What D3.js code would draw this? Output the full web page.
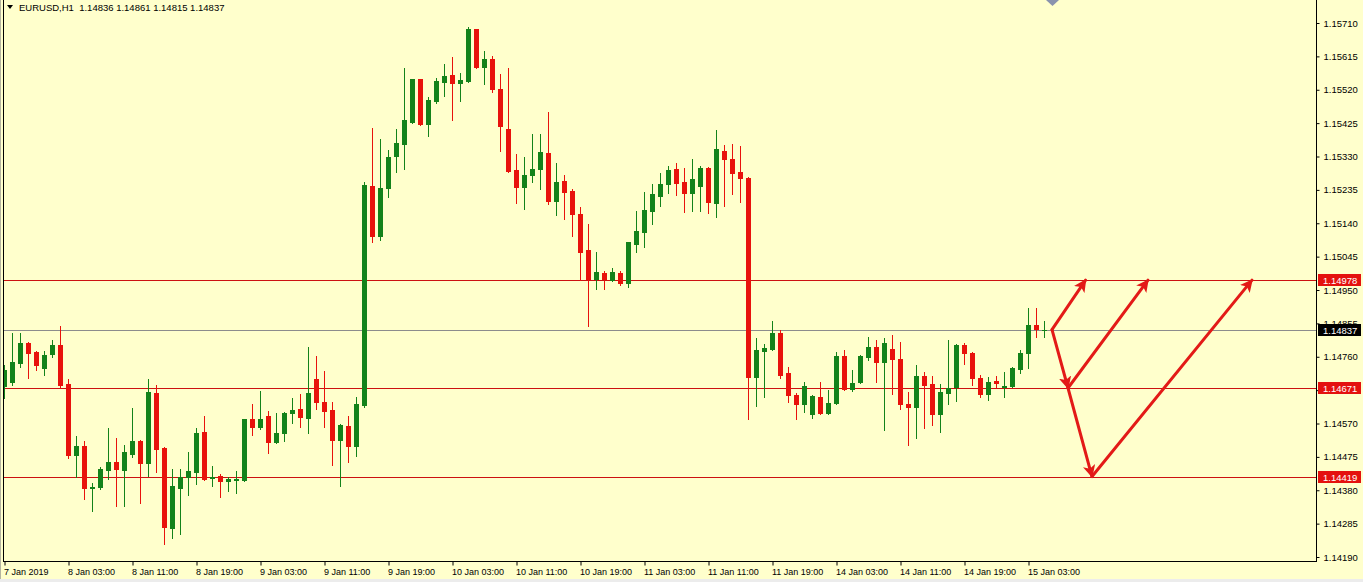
<!DOCTYPE html>
<html><head><meta charset="utf-8">
<script src="https://cdn.jsdelivr.net/npm/d3@7"></script>
<style>
html,body{margin:0;padding:0;background:#FFFFCC;overflow:hidden}
svg{display:block}
text{font-family:"Liberation Sans",Arial,sans-serif}
</style>
</head><body>
<svg id="chart" width="1363" height="582"></svg>
<script>
// ---- data (EURUSD H1, bar index 0 = 7 Jan 19:00, last = 15 Jan 05:00) ----
const openP = [1.14676,1.14688,1.14742,1.14799,1.14773,1.14728,1.14767,1.14793,1.14682,1.14480,
1.14506,1.14386,1.14389,1.14437,1.14460,1.14437,1.14483,1.14520,1.14457,1.14656,
1.14500,1.14272,1.14386,1.14417,1.14432,1.14545,1.14415,1.14420,1.14406,1.14410,
1.14409,1.14582,1.14560,1.14591,1.14517,1.14543,1.14600,1.14611,1.14585,1.14696,
1.14631,1.14608,1.14523,1.14563,1.14506,1.14622,1.15246,1.15103,1.15240,1.15331,
1.15365,1.15428,1.15550,1.15422,1.15488,1.15542,1.15562,1.15539,1.15545,1.15692,
1.15584,1.15607,1.15522,1.15408,1.15291,1.15243,1.15277,1.15294,1.15340,1.15203,
1.15260,1.15231,1.15166,1.15064,1.14981,1.14998,1.14978,1.14998,1.14970,1.15081,
1.15115,1.15175,1.15217,1.15251,1.15294,1.15257,1.15226,1.15246,1.15297,1.15197,
1.15345,1.15323,1.15285,1.15268,1.14702,1.14776,1.14782,1.14827,1.14713,1.14651,
1.14625,1.14597,1.14645,1.14600,1.14628,1.14762,1.14668,1.14688,1.14759,1.14787,
1.14745,1.14782,1.14753,1.14625,1.14617,1.14705,1.14682,1.14597,1.14656,1.14674,
1.14793,1.14770,1.14699,1.14654,1.14691,1.14674,1.14676,1.14725,1.14770,1.14850,
1.14836];
const highP = [1.14736,1.14827,1.14827,1.14802,1.14776,1.14776,1.14807,1.14847,1.14696,1.14534,
1.14520,1.14400,1.14446,1.14557,1.14528,1.14508,1.14614,1.14523,1.14696,1.14679,
1.14503,1.14440,1.14440,1.14489,1.14557,1.14591,1.14449,1.14426,1.14417,1.14434,
1.14584,1.14625,1.14662,1.14605,1.14600,1.14602,1.14642,1.14654,1.14787,1.14762,
1.14719,1.14631,1.14568,1.14591,1.14645,1.15257,1.15411,1.15379,1.15348,1.15408,
1.15581,1.15552,1.15552,1.15499,1.15553,1.15593,1.15613,1.15567,1.15698,1.15694,
1.15630,1.15616,1.15564,1.15581,1.15337,1.15328,1.15394,1.15394,1.15456,1.15311,
1.15277,1.15237,1.15186,1.15138,1.15058,1.15004,1.15012,1.15004,1.15088,1.15175,
1.15229,1.15251,1.15283,1.15303,1.15311,1.15297,1.15323,1.15303,1.15300,1.15405,
1.15362,1.15365,1.15359,1.15271,1.14813,1.14796,1.14861,1.14836,1.14730,1.14656,
1.14688,1.14651,1.14688,1.14665,1.14773,1.14779,1.14722,1.14764,1.14816,1.14807,
1.14813,1.14822,1.14802,1.14659,1.14736,1.14716,1.14705,1.14682,1.14807,1.14796,
1.14799,1.14773,1.14708,1.14702,1.14705,1.14716,1.14730,1.14779,1.14898,1.14898,
1.14861];
const lowP = [1.14642,1.14679,1.14730,1.14699,1.14722,1.14708,1.14759,1.14671,1.14471,1.14417,
1.14355,1.14321,1.14383,1.14412,1.14335,1.14335,1.14474,1.14343,1.14420,1.14432,
1.14227,1.14244,1.14255,1.14366,1.14397,1.14409,1.14392,1.14360,1.14378,1.14372,
1.14406,1.14537,1.14554,1.14486,1.14515,1.14520,1.14571,1.14560,1.14543,1.14611,
1.14560,1.14452,1.14392,1.14460,1.14477,1.14617,1.15086,1.15092,1.15214,1.15285,
1.15294,1.15425,1.15419,1.15388,1.15482,1.15502,1.15433,1.15488,1.15543,1.15581,
1.15536,1.15513,1.15345,1.15285,1.15197,1.15180,1.15257,1.15237,1.15194,1.15163,
1.15152,1.15103,1.14978,1.14847,1.14953,1.14953,1.14976,1.14964,1.14958,1.15058,
1.15072,1.15138,1.15189,1.15226,1.15220,1.15172,1.15175,1.15175,1.15169,1.15157,
1.15189,1.15223,1.15200,1.14582,1.14619,1.14645,1.14779,1.14699,1.14631,1.14582,
1.14602,1.14585,1.14597,1.14597,1.14625,1.14665,1.14662,1.14686,1.14750,1.14688,
1.14551,1.14654,1.14611,1.14508,1.14528,1.14557,1.14566,1.14545,1.14625,1.14634,
1.14739,1.14679,1.14645,1.14637,1.14674,1.14645,1.14674,1.14713,1.14728,1.14816,
1.14815];
const closeP = [1.14722,1.14745,1.14799,1.14770,1.14736,1.14765,1.14793,1.14679,1.14480,1.14506,
1.14386,1.14389,1.14440,1.14460,1.14440,1.14489,1.14520,1.14457,1.14659,1.14497,
1.14275,1.14392,1.14417,1.14434,1.14543,1.14412,1.14417,1.14406,1.14412,1.14412,
1.14582,1.14560,1.14582,1.14517,1.14543,1.14600,1.14608,1.14588,1.14656,1.14631,
1.14605,1.14523,1.14566,1.14506,1.14625,1.15248,1.15103,1.15240,1.15328,1.15368,
1.15433,1.15550,1.15422,1.15490,1.15545,1.15559,1.15539,1.15547,1.15692,1.15584,
1.15607,1.15522,1.15416,1.15288,1.15243,1.15277,1.15294,1.15342,1.15203,1.15257,
1.15229,1.15166,1.15058,1.14981,1.15001,1.14981,1.15001,1.14970,1.15086,1.15118,
1.15177,1.15223,1.15251,1.15291,1.15254,1.15226,1.15266,1.15297,1.15200,1.15351,
1.15323,1.15283,1.15268,1.14702,1.14779,1.14785,1.14827,1.14708,1.14651,1.14625,
1.14676,1.14648,1.14600,1.14628,1.14762,1.14668,1.14685,1.14762,1.14787,1.14745,
1.14799,1.14753,1.14625,1.14617,1.14705,1.14679,1.14597,1.14659,1.14671,1.14793,
1.14770,1.14699,1.14654,1.14688,1.14685,1.14676,1.14728,1.14770,1.14850,1.14838,
1.14837];

const timeTickBars = [0,8,16,24,32,40,48,56,64,72,80,88,96,104,112,120,128];
const timeTickLabels = ["7 Jan 2019","8 Jan 03:00","8 Jan 11:00","8 Jan 19:00","9 Jan 03:00","9 Jan 11:00",
  "9 Jan 19:00","10 Jan 03:00","10 Jan 11:00","10 Jan 19:00","11 Jan 03:00","11 Jan 11:00",
  "11 Jan 19:00","14 Jan 03:00","14 Jan 11:00","14 Jan 19:00","15 Jan 03:00"];
const priceTicks = [1.15710,1.15615,1.15520,1.15425,1.15330,1.15235,1.15140,1.15045,1.14950,
  1.14855,1.14760,1.14665,1.14570,1.14475,1.14380,1.14285,1.14190];
const levelPrices = [1.14978, 1.14671, 1.14419];
const bidPrice = 1.14837;
// trend arrows drawn on the chart (bar position, price)
const arrowBar1 = [131, 131, 133, 133, 136];
const arrowPrice1 = [1.14837, 1.14837, 1.14671, 1.14671, 1.14419];
const arrowBar2 = [135.2, 133, 143, 136, 156];
const arrowPrice2 = [1.14978, 1.14671, 1.14978, 1.14419, 1.14978];

// ---- layout ----
const W = 1363, H = 582;
const plotL = 3, plotR = 1316, plotB = 561;
const svg = d3.select("#chart");

const x = d3.scaleLinear().domain([0, 130]).range([4, 1044]);
const y = d3.scaleLinear().domain([1.14190, 1.15710]).range([557, 23]);

const bg = "#FFFFCC";
svg.append("rect").attr("width", W).attr("height", H).attr("fill", bg);
svg.append("rect").attr("x",0).attr("y",579).attr("width",W).attr("height",3).attr("fill","#ECECEC");
svg.append("line").attr("x1",0.5).attr("x2",0.5).attr("y1",0).attr("y2",579).attr("stroke","#B4B4A0");

svg.append("defs").append("clipPath").attr("id","plotclip")
  .append("rect").attr("x", plotL+1).attr("y", 0).attr("width", plotR-plotL-1).attr("height", plotB);

const plot = svg.append("g").attr("clip-path","url(#plotclip)");

// horizontal levels
const lineColor = "#CC1111";
levelPrices.forEach(p => {
  plot.append("line").attr("x1", plotL).attr("x2", plotR)
    .attr("y1", Math.round(y(p))+0.5).attr("y2", Math.round(y(p))+0.5)
    .attr("stroke", lineColor).attr("stroke-width", 1);
});
plot.append("line").attr("x1", plotL).attr("x2", plotR)
  .attr("y1", Math.round(y(bidPrice))+0.5).attr("y2", Math.round(y(bidPrice))+0.5)
  .attr("stroke", "#8C8C8C").attr("stroke-width", 1);

// candles
const bull = "#13821A", bear = "#E8120C";
const idx = d3.range(openP.length);
const cg = plot.append("g");
idx.forEach(i => {
  const cx = Math.round(x(i));
  const up = closeP[i] >= openP[i];
  const col = up ? bull : bear;
  cg.append("line").attr("x1", cx+0.5).attr("x2", cx+0.5)
    .attr("y1", Math.round(y(highP[i]))).attr("y2", Math.round(y(lowP[i]))+1)
    .attr("stroke", col).attr("stroke-width", 1);
  const yt = Math.round(y(Math.max(openP[i], closeP[i])));
  const yb = Math.round(y(Math.min(openP[i], closeP[i])));
  cg.append("rect").attr("x", cx-2).attr("y", yt)
    .attr("width", 5).attr("height", Math.max(1, yb-yt+1)).attr("fill", col);
});

// arrows
const arrowCol = "#E31A17";
const defs = svg.select("defs");
defs.append("marker").attr("id","ah").attr("viewBox","0 0 10 10")
  .attr("refX", 9).attr("refY", 5).attr("markerWidth", 4.2).attr("markerHeight", 4.2)
  .attr("markerUnits","strokeWidth").attr("orient","auto")
  .append("path").attr("d","M0,0 L10,5 L0,10 L2.5,5 Z").attr("fill", arrowCol);
arrowBar1.forEach((b, k) => {
  plot.append("line")
    .attr("x1", x(b)).attr("y1", y(arrowPrice1[k]))
    .attr("x2", x(arrowBar2[k])).attr("y2", y(arrowPrice2[k]))
    .attr("stroke", arrowCol).attr("stroke-width", 3)
    .attr("stroke-linecap","round")
    .attr("marker-end","url(#ah)");
});

// small object marker at top
plot.append("path").attr("d","M1046,0 L1059,0 L1052.5,6 Z").attr("fill","#8A93AE");

// frame
svg.append("line").attr("x1", plotL+0.5).attr("x2", plotL+0.5).attr("y1", 0).attr("y2", plotB+0.5).attr("stroke","#000");
svg.append("line").attr("x1", plotR+0.5).attr("x2", plotR+0.5).attr("y1", 0).attr("y2", plotB+0.5).attr("stroke","#000");
svg.append("line").attr("x1", plotL).attr("x2", plotR+1).attr("y1", plotB+0.5).attr("y2", plotB+0.5).attr("stroke","#000");

// price axis (right)
const yAxis = d3.axisRight(y).tickValues(priceTicks).tickSize(3).tickPadding(4)
  .tickFormat(d3.format(".5f"));
const ya = svg.append("g").attr("transform", `translate(${plotR+0.5},0)`).call(yAxis);
ya.select(".domain").remove();
ya.selectAll("line").attr("stroke","#000");
ya.selectAll("text").attr("font-size","9.5px").attr("fill","#000").attr("font-family","'Liberation Sans',Arial,sans-serif");

// time axis (bottom)
const xAxis = d3.axisBottom(x).tickValues(timeTickBars).tickSize(4).tickPadding(3)
  .tickFormat((d, k) => timeTickLabels[k]);
const xa = svg.append("g").attr("transform", `translate(0.5,${plotB+0.5})`).call(xAxis);
xa.select(".domain").remove();
xa.selectAll("line").attr("stroke","#000");
xa.selectAll("text").attr("font-size","9px").attr("fill","#000").attr("text-anchor","start")
  .attr("dx", "-1").attr("font-family","'Liberation Sans',Arial,sans-serif");

// price labels on axis
function tag(p, fill) {
  const yy = Math.round(y(p));
  svg.append("rect").attr("x", plotR+2).attr("y", yy-6).attr("width", 43).attr("height", 12).attr("fill", fill);
  svg.append("text").attr("x", plotR+7).attr("y", yy+3.5).attr("font-size","9.5px").attr("fill","#fff")
    .text(d3.format(".5f")(p));
}
levelPrices.forEach(p => tag(p, "#E4110F"));
tag(bidPrice, "#000");

// header
const last = openP.length - 1;
svg.append("path").attr("d","M7,5 L13,5 L10,9 Z").attr("fill","#000");
svg.append("text").attr("x", 19).attr("y", 11).attr("font-size","9.5px").attr("fill","#000")
  .attr("xml:space","preserve").style("white-space","pre")
  .text(`EURUSD,H1  ${openP[last].toFixed(5)} ${highP[last].toFixed(5)} ${lowP[last].toFixed(5)} ${closeP[last].toFixed(5)}`);
</script>
</body></html>
